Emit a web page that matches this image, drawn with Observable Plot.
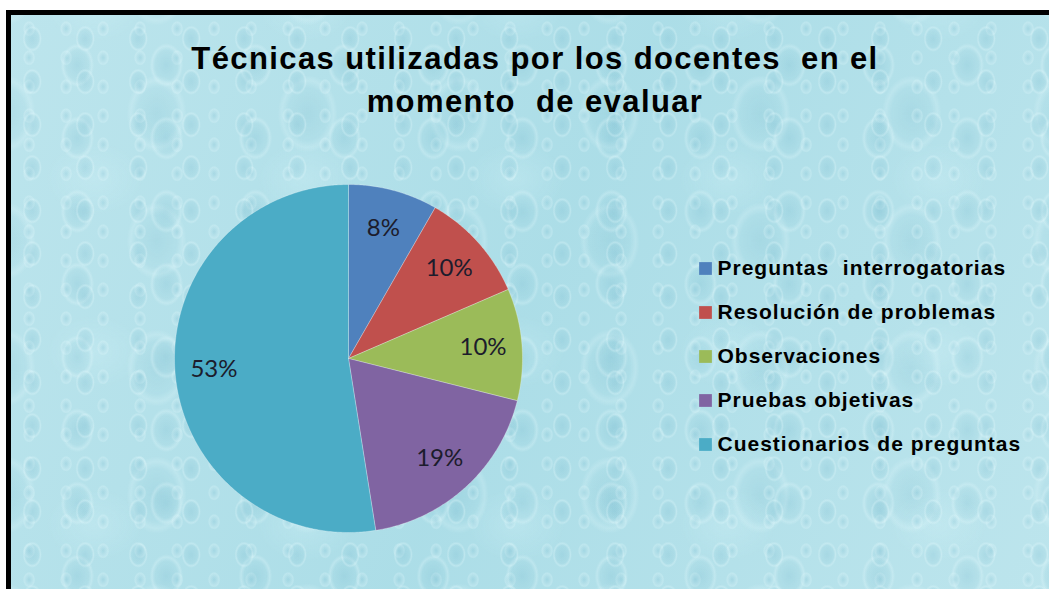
<!DOCTYPE html>
<html>
<head>
<meta charset="utf-8">
<script src="https://cdn.jsdelivr.net/npm/d3@7"></script>
<script src="https://cdn.jsdelivr.net/npm/@observablehq/plot@0.6"></script>
<style>
  html, body { margin: 0; padding: 0; background: #fff; }
  #page { position: relative; width: 1049px; height: 589px; overflow: hidden; background: #fff; }
  #frame {
    position: absolute; left: 6px; top: 10px; right: 0; bottom: 0;
    border-top: 5px solid #000; border-left: 5px solid #000;
    background-color: #b3e1ea;
    background-image:
      radial-gradient(ellipse 11px 15px at 40% 55%, rgba(110,180,202,0.22) 0%, rgba(130,195,212,0.12) 60%, rgba(230,250,253,0.28) 75%, rgba(255,255,255,0) 88%),
      radial-gradient(ellipse 19px 25px at 60% 40%, rgba(105,178,200,0.2) 0%, rgba(135,198,214,0.1) 60%, rgba(230,250,253,0.25) 76%, rgba(255,255,255,0) 88%),
      radial-gradient(ellipse 7px 9px at 30% 30%, rgba(110,180,202,0.2) 0%, rgba(230,250,253,0.25) 72%, rgba(255,255,255,0) 88%),
      radial-gradient(ellipse 34px 44px at 70% 70%, rgba(110,180,200,0.16) 0%, rgba(140,200,215,0.08) 60%, rgba(230,250,253,0.2) 76%, rgba(255,255,255,0) 88%),
      radial-gradient(ellipse 60px 45px at 30% 60%, rgba(215,245,250,0.25) 0%, rgba(255,255,255,0) 80%),
      linear-gradient(115deg, rgba(255,255,255,0.12), rgba(120,195,212,0.12), rgba(255,255,255,0.12));
    background-size: 53px 43px, 89px 73px, 37px 29px, 151px 127px, 211px 173px, 100% 100%;
    background-position: 0 0, 13px 21px, 7px 5px, 40px 10px, 20px 60px, 0 0;
  }
  #title {
    position: absolute; left: 0; top: 37px; width: 1070px; text-align: center;
    font-family: "Liberation Sans", Arial, sans-serif; font-weight: bold;
    font-size: 31px; line-height: 43px; letter-spacing: 1.4px; color: #000;
    white-space: pre;
  }
  #chart { position: absolute; left: 0; top: 120px; }
  text[aria-label="legend-text"] { letter-spacing: 1px; white-space: pre; }
</style>
</head>
<body>
<div id="page">
  <div id="frame"></div>
  <div id="title">Técnicas utilizadas por los docentes  en el
momento  de evaluar</div>
  <div id="chart"></div>
</div>
<script>
// Data
const categories = ["Preguntas  interrogatorias", "Resolución de problemas", "Observaciones", "Pruebas objetivas", "Cuestionarios de preguntas"];
const values = [8.3, 10.2, 10.4, 18.6, 52.5];
const colors = ["#4F81BD", "#C0504D", "#9BBB59", "#8064A2", "#4BACC6"];

// Layout
const W = 1049, H = 469;
const cx = 348, cy = 238, R = 174, labelR = 135;
const legendX = 705, legendTextX = 717, legendY0 = 148, legendStep = 44;

const data = categories.map((c, i) => ({category: c, value: values[i]}));
const total = d3.sum(values);
const arcs = d3.pie().sort(null).value(d => d.value)(data);

// polygon points for each slice
const pts = [];
arcs.forEach(a => {
  const c = a.data.category;
  pts.push({category: c, x: cx, y: cy});
  const n = Math.max(2, Math.ceil((a.endAngle - a.startAngle) / 0.01));
  for (let k = 0; k <= n; k++) {
    const t = a.startAngle + (a.endAngle - a.startAngle) * k / n;
    pts.push({category: c, x: cx + R * Math.sin(t), y: cy - R * Math.cos(t)});
  }
  pts.push({category: c, x: cx, y: cy});
});

const labels = arcs.map(a => {
  const m = (a.startAngle + a.endAngle) / 2;
  return {
    category: a.data.category,
    x: cx + labelR * Math.sin(m),
    y: cy - labelR * Math.cos(m),
    text: Math.round(a.data.value / total * 100) + "%"
  };
});

const legend = categories.map((c, i) => ({category: c, y: legendY0 + i * legendStep}));

const chart = Plot.plot({
  width: W, height: H,
  margin: 0,
  x: {domain: [0, W], range: [0, W], axis: null},
  y: {domain: [0, H], range: [0, H], axis: null},
  color: {type: "ordinal", domain: categories, range: colors},
  style: {background: "transparent", overflow: "visible"},
  marks: [
    Plot.line(pts, {x: "x", y: "y", z: "category", fill: "category", stroke: "rgba(255,255,255,0.35)", strokeWidth: 0.8, curve: "linear"}),
    Plot.text(labels, {x: "x", y: "y", text: "text", fill: "#1c1c2c", fontSize: 24, fontFamily: "Lato, 'Open Sans', sans-serif"}),
    Plot.dot(legend, {x: legendX, y: "y", fill: "category", symbol: "square", r: 7.2, stroke: null}),
    Plot.text(legend, {x: legendTextX, y: "y", text: "category", textAnchor: "start", fill: "#000", fontSize: 21, fontWeight: "bold", fontFamily: "'Liberation Sans', Arial, sans-serif", ariaLabel: () => "legend-text"})
  ]
});
document.getElementById("chart").appendChild(chart);
</script>
</body>
</html>
